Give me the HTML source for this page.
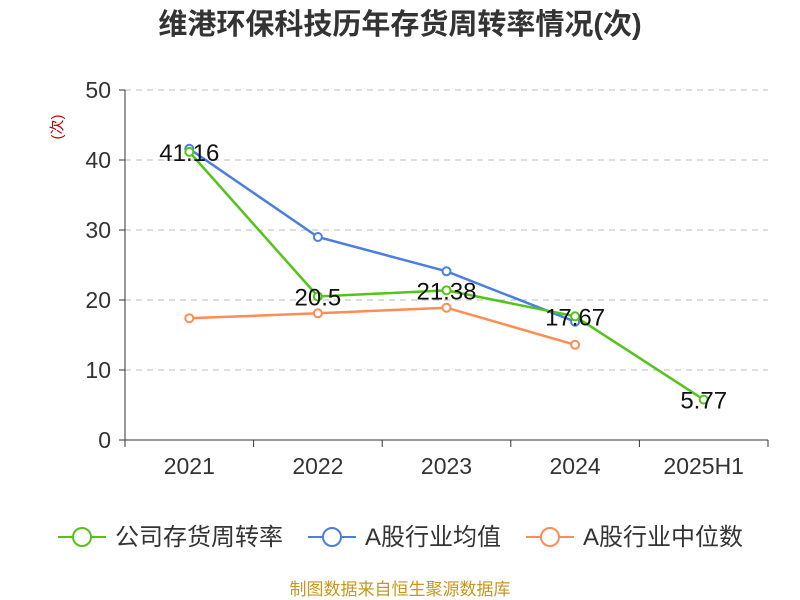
<!DOCTYPE html>
<html><head><meta charset="utf-8"><style>
body{margin:0;background:#fff;}
svg{display:block;font-family:"Liberation Sans","Noto Sans CJK SC",sans-serif;}
</style></head><body>
<svg id="chart" width="800" height="600">
<text x="400" y="34" text-anchor="middle" font-size="29" font-weight="bold" fill="#333">维港环保科技历年存货周转率情况(次)</text>
<text x="62" y="127" text-anchor="middle" font-size="15" fill="#c00" transform="rotate(-90 62 127)">(次)</text>
<g id="grid"></g><g id="axes"></g><g id="series"></g>
<g>
<g><line x1="58" y1="537" x2="106" y2="537" stroke="#52c41a" stroke-width="2"/><circle cx="82" cy="537" r="9" fill="#fff" stroke="#52c41a" stroke-width="2"/><text x="115" y="545" font-size="24" fill="#333">公司存货周转率</text></g>
<g><line x1="308" y1="537" x2="356" y2="537" stroke="#4a7fe0" stroke-width="2"/><circle cx="332" cy="537" r="9" fill="#fff" stroke="#4a7fe0" stroke-width="2"/><text x="365" y="545" font-size="24" fill="#333">A股行业均值</text></g>
<g><line x1="526" y1="537" x2="574" y2="537" stroke="#ff8c55" stroke-width="2"/><circle cx="550" cy="537" r="9" fill="#fff" stroke="#ff8c55" stroke-width="2"/><text x="583" y="545" font-size="24" fill="#333">A股行业中位数</text></g>
</g>
<text x="400" y="595" text-anchor="middle" font-size="17" fill="#c8961e">制图数据来自恒生聚源数据库</text>
</svg>
<script>
const categories=["2021","2022","2023","2024","2025H1"];
const yTicks=[0,10,20,30,40,50];
const companyValues=[41.16,20.5,21.38,17.67,5.77];
const companyLabels=["41.16","20.5","21.38","17.67","5.77"];
const averageValues=[41.6,29.0,24.1,16.9];
const medianValues=[17.4,18.1,18.9,13.6];
const NS="http://www.w3.org/2000/svg";
const x0=125,x1=768,y0=440,y1=90;
const band=(x1-x0)/categories.length;
const xs=i=>x0+band*(i+0.5);
const ys=v=>y0-(v/50)*(y0-y1);
function mk(tag,attrs,parent){const e=document.createElementNS(NS,tag);for(const k in attrs)e.setAttribute(k,attrs[k]);parent.appendChild(e);return e;}
const grid=document.getElementById('grid'),axes=document.getElementById('axes'),series=document.getElementById('series');
yTicks.forEach(t=>{
 if(t>0){const g=mk('line',{x1:x0,x2:x1,y1:ys(t),y2:ys(t),stroke:'#bbb','stroke-dasharray':'6,5'},grid);
 
 }
 const tk=mk('line',{x1:x0-6,x2:x0,y1:ys(t),y2:ys(t),stroke:'#333'},axes);
 
 
 const tx=mk('text',{x:x0-14,y:ys(t)+8,'text-anchor':'end','font-size':23,fill:'#333'},axes);tx.textContent=t;
 
 
});
const ya=mk('line',{x1:x0,x2:x0,y1:y1,y2:y0,stroke:'#333'},axes);


const xa=mk('line',{x1:x0,x2:x1,y1:y0,y2:y0,stroke:'#333'},axes);


for(let i=0;i<=categories.length;i++){const l=mk('line',{x1:x0+band*i,x2:x0+band*i,y1:y0,y2:y0+7,stroke:'#333'},axes);
 
 }
categories.forEach((c,i)=>{const t=mk('text',{x:xs(i),y:474,'text-anchor':'middle','font-size':23,fill:'#333'},axes);t.textContent=c;
 
 });
function draw(vals,color,name){
 const p=mk('polyline',{points:vals.map((v,i)=>xs(i)+','+ys(v)).join(' '),fill:'none',stroke:color,'stroke-width':2.5},series);
 
 
 vals.forEach((v,i)=>{const c=mk('circle',{cx:xs(i),cy:ys(v),r:4,fill:'#fff',stroke:color,'stroke-width':2},series);
 
 });
}
draw(medianValues,'#ff8c55','median');
draw(averageValues,'#4a7fe0','average');
draw(companyValues,'#52c41a','company');
companyValues.forEach((v,i)=>{const t=mk('text',{x:xs(i),y:ys(v)+9,'text-anchor':'middle','font-size':24,fill:'#111'},series);t.textContent=companyLabels[i];
 
 });
</script>
</body></html>
